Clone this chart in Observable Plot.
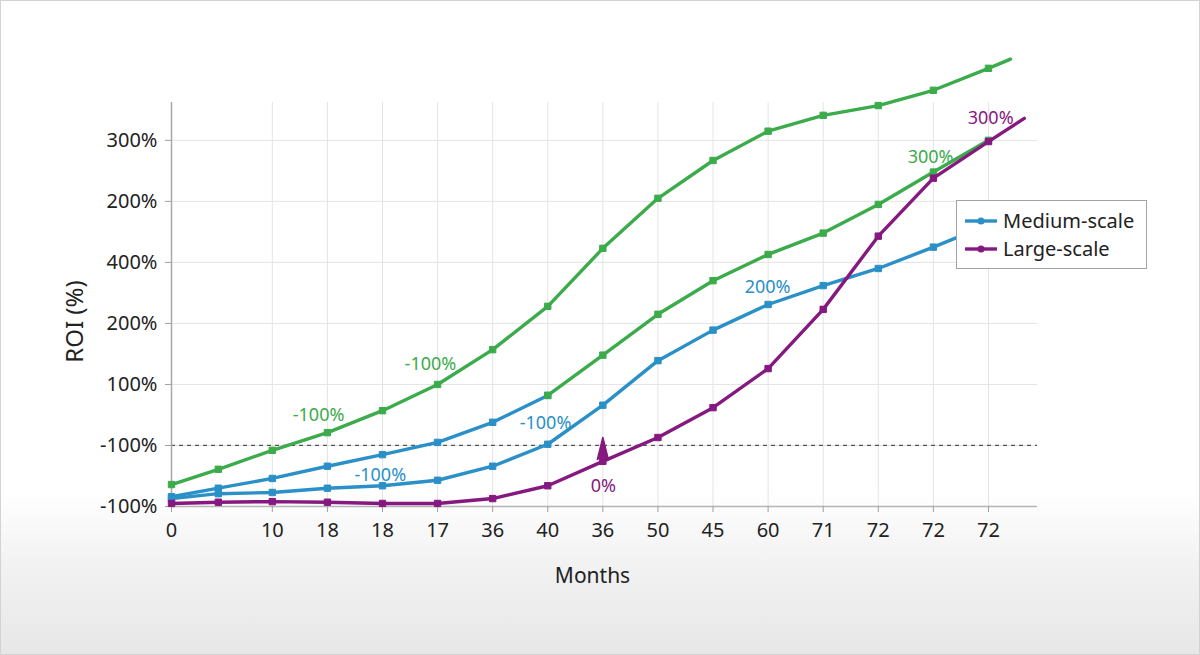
<!DOCTYPE html>
<html>
<head>
<meta charset="utf-8">
<script src="https://cdn.jsdelivr.net/npm/d3@7"></script>
<script src="https://cdn.jsdelivr.net/npm/@observablehq/plot@0.6"></script>
<style>
  html, body { margin: 0; padding: 0; }
  body {
    width: 1200px; height: 655px; overflow: hidden; position: relative;
    background: linear-gradient(to bottom, #ffffff 0%, #ffffff 75%, #f2f2f2 86%, #e7e7e7 100%);
    font-family: "Noto Sans", sans-serif;
  }
  #frame { position: absolute; left: 0; top: 0; width: 1200px; height: 655px; box-sizing: border-box; border: 1px solid #d3d3d3; pointer-events: none; }
  #chart { position: absolute; left: 0; top: 0; }
  #legend {
    position: absolute; left: 956px; top: 200px; width: 191px; height: 69px;
    box-sizing: border-box; border: 1px solid #a3a3a3; background: #fff;
  }
  .lg-row { position: absolute; left: 8px; height: 24px; display: flex; align-items: center; }
  .lg-row span { font-size: 20px; color: #222; margin-left: 6px; line-height: 24px; }
</style>
</head>
<body>
<div id="chart"></div>
<div id="legend"></div>
<div id="frame"></div>
<script>
// ---- Data ----
// x positions of the data points (in tick steps)
const xPos = [0, 0.85, 1.83, 2.83, 3.83, 4.83, 5.83, 6.83, 7.83, 8.83, 9.83, 10.83, 11.83, 12.83, 13.83, 14.83];
// tick positions and their (as printed) labels
const monthTickPos = [0, 1.83, 2.83, 3.83, 4.83, 5.83, 6.83, 7.83, 8.83, 9.83, 10.83, 11.83, 12.83, 13.83, 14.83];
const monthLabels = ["0", "10", "18", "18", "17", "36", "40", "36", "50", "45", "60", "71", "72", "72", "72"];
const roiTickPos = [0, 1, 2, 3, 4, 5, 6];
const roiLabels = ["-100%", "-100%", "100%", "200%", "400%", "200%", "300%"];

// series values (in y tick steps)
const greenTop    = [0.36, 0.61, 0.92, 1.21, 1.57, 2.00, 2.57, 3.28, 4.23, 5.05, 5.67, 6.15, 6.41, 6.57, 6.82, 7.18];
const blueUpper   = [0.16, 0.30, 0.46, 0.66, 0.85, 1.05, 1.38, 1.82];            // points 0..7
const greenMiddle = [1.82, 2.48, 3.15, 3.70, 4.13, 4.48, 4.95, 5.48, 6.00];      // points 7..15
const blueLower   = [0.13, 0.21, 0.23, 0.30, 0.34, 0.43, 0.66, 1.02, 1.66, 2.39, 2.89, 3.31, 3.62, 3.90, 4.25, 4.62];
const purple      = [0.05, 0.07, 0.08, 0.07, 0.05, 0.05, 0.13, 0.34, 0.74, 1.13, 1.62, 2.26, 3.23, 4.43, 5.38, 5.98];
// unmarked line tails past the last point
const greenTopTail = {x: 15.23, y: 7.33};
const purpleTail   = {x: 15.48, y: 6.36};

// annotations
const annText  = ["-100%", "-100%", "-100%", "-100%", "0%", "200%", "300%", "300%"];
const annX     = [2.67, 4.70, 3.79, 6.79, 7.84, 10.82, 13.78, 14.87];
const annY     = [1.49, 2.33, 0.52, 1.36, 0.33, 3.59, 5.72, 6.36];
const annSeries = ["green", "green", "blue", "blue", "purple", "blue", "green", "purple"];
const arrowPoint = {x: 7.83, y: 0.77};

const colors = {green: "#3cab4b", blue: "#2a90c7", purple: "#85197f"};
const legendItems = [{name: "Medium-scale", series: "blue"}, {name: "Large-scale", series: "purple"}];

// ---- Build tables ----
const pts = (vals, offset) => vals.map((v, i) => ({x: xPos[i + offset], y: v}));
const gTop = pts(greenTop, 0);
const bUp = pts(blueUpper, 0);
const gMid = pts(greenMiddle, 7);
const bLow = pts(blueLower, 0);
const pur = pts(purple, 0);
const ann = annText.map((t, i) => ({t, x: annX[i], y: annY[i], c: colors[annSeries[i]]}));

const lw = 3.4, r = 3.6;
const series = [
  {line: bUp, dots: bUp, c: colors.blue},
  {line: bLow, dots: bLow, c: colors.blue},
  {line: gTop.concat([greenTopTail]), dots: gTop, c: colors.green},
  {line: gMid, dots: gMid, c: colors.green},
  {line: pur.concat([purpleTail]), dots: pur, c: colors.purple}
];

const marks = [
  Plot.gridX(monthTickPos.slice(1), {stroke: "#e4e4e4", strokeOpacity: 1}),
  Plot.gridY(roiTickPos.slice(1), {stroke: "#e4e4e4", strokeOpacity: 1}),
  Plot.ruleY([1], {stroke: "#555", strokeWidth: 1.2, strokeDasharray: "4,4"}),
  Plot.ruleX([0], {stroke: "#a8a8a8", strokeWidth: 1.5}),
  Plot.ruleY([0], {stroke: "#b5b5b5", strokeWidth: 1.5}),
  Plot.axisX(monthTickPos, {tickFormat: d => monthLabels[monthTickPos.indexOf(d)], tickSize: 6, tickPadding: 10, fontSize: 20, fill: "#222", stroke: "#a0a0a0", label: null}),
  Plot.axisY(roiTickPos, {tickFormat: d => roiLabels[d], tickSize: 6, tickPadding: 8, fontSize: 20, fill: "#222", stroke: "#a0a0a0", label: null}),
  Plot.text([{t: "ROI (%)", y: 3.03}], {y: "y", text: "t", frameAnchor: "left", dx: -96, rotate: -90, textAnchor: "middle", lineAnchor: "middle", fontSize: 24, fill: "#222"}),
  Plot.text(["Months"], {frameAnchor: "bottom", dx: -12, dy: 70, lineAnchor: "middle", fontSize: 21, fill: "#222"})
];
for (const s of series) {
  marks.push(Plot.line(s.line, {x: "x", y: "y", stroke: s.c, strokeWidth: lw}));
  marks.push(Plot.dot(s.dots, {x: "x", y: "y", r, fill: s.c, stroke: s.c, strokeWidth: 1, symbol: "square"}));
}
marks.push(Plot.vector([arrowPoint], {x: "x", y: "y", length: 22, rotate: 0, shape: "spike", r: 5.5, anchor: "start", fill: colors.purple, stroke: colors.purple}));
marks.push(Plot.text(ann, {x: "x", y: "y", text: "t", fill: "c", fontSize: 18}));

const chart = Plot.plot({
  width: 1200, height: 655,
  marginLeft: 171, marginRight: 163, marginTop: 102, marginBottom: 149,
  style: {background: "transparent", fontFamily: "'Noto Sans', sans-serif", overflow: "visible"},
  x: {type: "linear", domain: [0, 15.72]},
  y: {type: "linear", domain: [0, 6.62]},
  marks
});
document.getElementById("chart").appendChild(chart);

// legend
const lg = document.getElementById("legend");
legendItems.forEach((it, i) => {
  const row = document.createElement("div");
  row.className = "lg-row";
  row.style.top = (8 + i * 28) + "px";
  const c = colors[it.series];
  row.innerHTML = `<svg width="32" height="12"><line x1="0" y1="6" x2="32" y2="6" stroke="${c}" stroke-width="3.4"/><circle cx="16" cy="6" r="3.6" fill="${c}"/></svg><span>${it.name}</span>`;
  lg.appendChild(row);
});
</script>
</body>
</html>
